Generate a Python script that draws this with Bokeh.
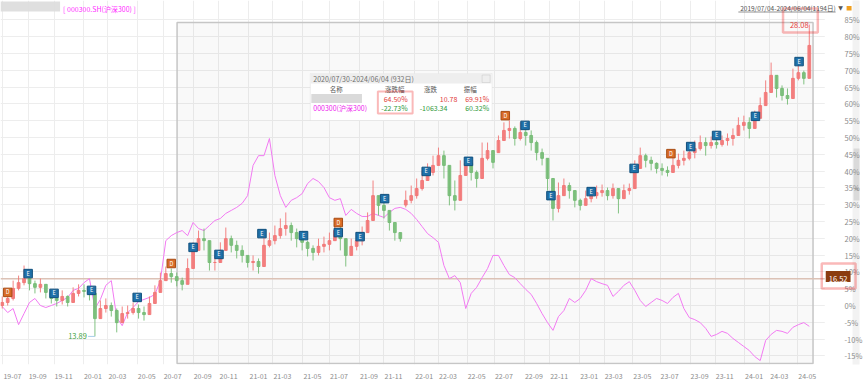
import numpy as np
from bokeh.plotting import figure
from bokeh.models import Range1d, FixedTicker, PrintfTickFormatter, Label, BoxAnnotation
from bokeh.core.properties import value
from bokeh.embed import file_html
from bokeh.resources import INLINE

FONT = "Noto Sans CJK SC"

# ---------------- data ----------------
base_price = 15.30          # close of 2019/07/04 -> 0%
ref_price = 16.52           # horizontal reference line
high_price_label = "28.08"
low_price_label = "13.89"
bucket_days = 8             # one candle per 8 trading days

open_pct = [0.0, 0.9, 2.1, 5.1, 6.8, 8.0, 6.5, 5.4, 6.3, 3.9,
            2.1, 1.5, 2.7, 0.9, 3.6, 4.5, 4.2, 3.6, -3.9, -0.9,
            0.0, -1.5, -5.1, -2.4, -2.1, -0.9, -2.1, -2.7, 0.6, 3.9,
            7.4, 9.5, 8.6, 7.4, 6.3, 11.0, 16.4, 19.9, 19.3, 12.8,
            12.8, 16.4, 19.9, 17.9, 16.4, 14.9, 12.8, 13.1, 11.6, 17.9,
            19.3, 20.8, 22.9, 23.8, 21.7, 19.9, 18.8, 17.0, 15.8, 17.6,
            18.2, 19.3, 22.3, 19.9, 14.9, 17.6, 19.3, 21.7, 25.3, 32.7,
            29.8, 28.3, 24.7, 21.7, 29.9, 31.3, 32.7, 34.8, 37.2, 39.6,
            41.7, 44.6, 41.7, 32.7, 31.3, 38.7, 42.3, 39.6, 37.8, 43.8,
            46.1, 45.5, 49.1, 52.1, 52.7, 49.7, 51.5, 50.6, 48.5, 45.5,
            43.8, 37.8, 28.9, 32.7, 35.7, 34.2, 31.3, 29.8, 31.8, 32.7,
            33.6, 34.2, 32.7, 34.8, 31.8, 34.2, 34.8, 40.8, 44.6, 43.2,
            42.3, 40.8, 40.2, 39.6, 41.7, 43.2, 43.8, 45.5, 46.7, 48.5,
            47.6, 48.5, 47.9, 49.1, 49.7, 50.6, 53.6, 54.5, 52.7, 55.7,
            59.5, 63.4, 68.5, 64.6, 62.5, 61.6, 67.6, 69.3, 67.6]
close_pct = [0.9, 2.1, 5.1, 6.8, 8.0, 6.5, 5.4, 6.3, 3.9, 2.1,
             1.5, 2.7, 0.9, 3.6, 4.5, 4.2, 3.6, -3.9, -0.9, 0.0,
             -1.5, -5.1, -2.4, -2.1, -0.9, -2.1, -2.7, 0.6, 3.9, 7.4,
             9.5, 8.6, 7.4, 6.3, 11.0, 16.4, 19.9, 19.3, 12.8, 12.8,
             16.4, 19.9, 17.9, 16.4, 14.9, 12.8, 13.1, 11.6, 17.9, 19.3,
             20.8, 22.9, 23.8, 21.7, 19.9, 18.8, 17.0, 15.8, 17.6, 18.2,
             19.3, 22.3, 19.9, 14.9, 17.6, 19.3, 21.7, 25.3, 32.7, 29.8,
             28.3, 24.7, 21.7, 19.9, 31.3, 32.7, 34.8, 37.2, 39.6, 41.7,
             44.6, 41.7, 32.7, 31.3, 38.7, 42.3, 39.6, 37.8, 43.8, 46.1,
             42.6, 49.1, 52.1, 52.7, 49.7, 51.5, 50.6, 48.5, 45.5, 43.8,
             37.8, 28.9, 32.7, 35.7, 34.2, 31.3, 29.8, 31.8, 32.7, 33.6,
             34.2, 32.7, 34.8, 31.8, 34.2, 34.8, 40.8, 44.6, 43.2, 42.3,
             40.8, 40.2, 39.6, 41.7, 43.2, 43.8, 45.5, 46.7, 48.5, 47.6,
             48.5, 47.9, 49.1, 49.7, 50.6, 53.6, 54.5, 52.7, 55.7, 59.5,
             63.4, 68.5, 64.6, 62.5, 61.6, 67.6, 69.3, 67.6, 77.4]
high_pct = [2.7, 3.9, 7.4, 8.9, 11.9, 8.9, 7.4, 8.0, 6.0, 4.5,
            3.3, 4.5, 3.0, 5.4, 6.3, 6.3, 5.4, 3.9, 1.5, 2.1,
            0.9, -0.9, -0.3, 0.0, 0.9, 0.3, -0.3, 2.7, 6.0, 9.8,
            11.6, 11.0, 9.8, 8.3, 14.0, 18.8, 22.3, 22.9, 15.8, 14.9,
            18.8, 23.2, 20.8, 19.3, 17.9, 14.9, 14.9, 14.0, 21.4, 21.7,
            23.8, 25.9, 27.7, 24.7, 22.9, 21.4, 19.3, 17.9, 19.9, 20.5,
            21.7, 25.9, 23.8, 18.8, 19.9, 21.7, 23.5, 27.7, 37.2, 32.7,
            31.3, 27.4, 24.7, 20.8, 34.2, 35.7, 37.8, 40.2, 42.3, 44.6,
            47.0, 46.1, 37.8, 37.2, 43.2, 44.0, 42.3, 40.2, 48.5, 48.5,
            44.6, 50.6, 54.5, 55.1, 53.3, 54.5, 53.3, 52.1, 49.1, 46.7,
            42.3, 34.2, 36.6, 37.8, 36.6, 33.3, 31.8, 34.2, 34.8, 35.7,
            36.0, 35.1, 36.3, 34.8, 36.0, 36.3, 43.2, 47.0, 45.2, 44.3,
            42.6, 42.3, 41.4, 44.3, 45.2, 46.1, 47.3, 49.1, 50.6, 50.0,
            50.3, 50.3, 50.6, 51.2, 52.7, 56.0, 56.5, 56.0, 58.0, 61.9,
            67.0, 72.3, 68.5, 65.5, 64.6, 70.5, 71.7, 69.9, 83.6]
low_pct = [-0.9, 0.0, 1.5, 4.5, 6.0, 4.5, 3.6, 3.9, 2.1, 0.6,
           -0.3, 0.3, -0.3, 1.5, 2.7, 2.4, 1.5, -9.2, -3.3, -2.1,
           -3.3, -8.0, -4.5, -3.9, -2.7, -3.9, -4.5, -2.1, 1.5, 4.5,
           7.4, 6.8, 5.7, 4.5, 8.6, 12.8, 17.3, 16.4, 10.4, 10.4,
           12.8, 17.3, 15.8, 14.0, 12.8, 11.3, 10.4, 9.5, 14.0, 17.3,
           18.2, 19.9, 20.8, 19.3, 17.3, 16.4, 14.6, 13.4, 14.9, 15.8,
           16.4, 19.3, 16.4, 11.6, 15.2, 16.4, 17.9, 22.9, 29.2, 26.8,
           25.9, 22.3, 19.3, 19.0, 29.2, 30.4, 31.8, 34.2, 37.2, 38.7,
           41.7, 37.8, 29.8, 28.3, 35.7, 39.6, 37.2, 35.1, 40.2, 43.2,
           40.8, 46.1, 49.1, 49.7, 47.6, 49.1, 47.6, 46.1, 43.2, 41.7,
           34.2, 25.3, 27.7, 32.7, 31.8, 29.2, 28.3, 29.8, 30.7, 31.8,
           32.4, 31.3, 31.8, 27.4, 32.4, 33.0, 35.4, 41.7, 41.1, 40.2,
           39.3, 38.7, 38.4, 40.2, 40.8, 41.7, 43.2, 43.8, 46.1, 44.6,
           46.7, 46.7, 47.3, 47.6, 47.6, 51.2, 52.1, 49.7, 53.6, 56.5,
           61.0, 64.6, 61.9, 61.0, 59.8, 64.6, 67.0, 65.8, 72.3]
csi300_pct = [-0.3, -2.1, -0.9, -5.7, -2.4, 0.9, 2.1, 0.0, -0.6, 0.0,
              0.6, 1.5, 2.4, 4.5, 5.1, 6.8, 8.0, -0.9, 1.8, 6.0,
              7.4, -3.6, -6.0, -2.1, -0.6, 1.2, 1.8, 2.4, 3.3, 7.4,
              19.3, 20.8, 21.7, 22.3, 20.8, 24.7, 22.9, 22.3, 23.8, 25.3,
              25.9, 27.4, 28.3, 29.2, 30.4, 32.7, 41.7, 44.6, 44.6, 49.7,
              38.7, 32.7, 29.2, 31.3, 32.1, 33.3, 36.3, 37.8, 36.9, 35.1,
              32.1, 31.3, 31.8, 26.8, 28.6, 27.4, 26.5, 26.5, 27.4, 26.8,
              26.2, 27.7, 28.9, 29.2, 28.6, 27.4, 25.6, 23.5, 21.4, 20.2,
              18.8, 11.9, 8.0, 8.9, 6.8, -0.9, 3.6, 5.4, 8.3, 11.0,
              14.9, 14.9, 11.9, 9.2, 8.3, 6.5, 4.8, 3.3, 0.6, -2.4,
              -5.1, -7.4, -3.3, -1.5, 2.1, 0.9, 2.1, 4.5, 8.0, 7.1,
              6.5, 6.0, 2.7, 4.2, 6.0, 7.1, 4.5, 1.5, -0.3, 0.9,
              2.1, 1.5, 0.6, 2.4, 3.6, -0.9, -3.6, -4.2, -5.1, -6.8,
              -9.2, -8.6, -7.7, -8.3, -9.8, -11.0, -12.2, -13.4, -15.2, -16.4,
              -10.4, -8.6, -7.4, -7.7, -8.3, -6.5, -5.7, -5.1, -6.2]

# x axis: trading-day index of month starts (every 2 months)
month_tick_idx = [5, 42, 80, 123, 159, 202, 240, 284, 322, 366, 401, 445, 484, 528, 564,
                  609, 644, 686, 726, 770, 807, 851, 887, 929, 969, 1013, 1050, 1093, 1130, 1171]
month_tick_labels = ["19-07", "19-09", "19-11", "20-01", "20-03", "20-05", "20-07", "20-09",
                     "20-11", "21-01", "21-03", "21-05", "21-07", "21-09", "21-11", "22-01",
                     "22-03", "22-05", "22-07", "22-09", "22-11", "23-01", "23-03", "23-05",
                     "23-07", "23-09", "23-11", "24-01", "24-03", "24-05"]
pct_ticks = list(range(-15, 90, 5))

# event markers (trading-day index, % level)
blue_idx = [42, 80, 135, 202, 284, 322, 385, 446, 497, 529, 565, 626, 688, 771, 809, 868, 931,
            1014, 1052, 1109, 1173]
blue_pct = [9.5, 3.6, 4.5, 2.4, 17.3, 15.2, 21.4, 20.8, 21.7, 20.5, 31.8, 39.9, 42.9, 53.6,
            32.7, 33.9, 40.8, 47.3, 50.6, 56.3, 72.6]
orange_idx = [12, 252, 497, 742, 985]
orange_pct = [3.9, 12.5, 24.7, 56.5, 45.2]

sel_start_idx, sel_end_idx = 261, 1193
table_title = "2020/07/30-2024/06/04 (932日)"
table_headers = ["名称", "涨跌幅", "涨跌", "振幅"]
stock_row = ["64.50%", "10.78", "69.91%"]
index_name = "000300(沪深300)"
index_row = ["-22.73%", "-1063.34", "60.32%"]
header_index = "[ 000300.SH(沪深300) ]"
header_range = "2019/07/04-2024/06/04(1194日)"

# ---------------- figure ----------------
W, H = 865, 383
FH = 364                      # frame height (page px), x-axis below
PX_PER_DAY, PX_DAY0 = 0.6864, -1.0
PX_PER_PCT, PY_ZERO = 3.36, 305.0
LABEL_SHIFT = 14              # month labels start just right of their grid line


def gx(px):  # page pixel -> data x
    return (px - PX_DAY0) / PX_PER_DAY


def gy(py):  # page pixel -> data y
    return (PY_ZERO - py) / PX_PER_PCT


p = figure(width=W, height=H, x_range=Range1d(gx(0), gx(W)), y_range=Range1d(gy(FH), gy(0)),
           output_backend="svg", toolbar_location=None, y_axis_location="right",
           min_border_left=0, min_border_top=0, min_border_right=0, min_border_bottom=H - FH)
p.outline_line_color = None
p.background_fill_color = "white"
p.border_fill_color = "white"

label_pos = [m + LABEL_SHIFT for m in month_tick_idx]
xa = p.xaxis[0]
xa.ticker = FixedTicker(ticks=label_pos)
xa.major_label_overrides = {t: l for t, l in zip(label_pos, month_tick_labels)}
xa.axis_line_color = None
xa.major_tick_line_color = None
xa.minor_tick_line_color = None
xa.major_label_text_font_size = "7px"
xa.major_label_text_color = "#8c8c8c"
xa.major_label_text_font = FONT
xa.major_label_standoff = 2

ya = p.yaxis[0]
ya.ticker = FixedTicker(ticks=pct_ticks)
ya.formatter = PrintfTickFormatter(format="%d%%")
ya.axis_line_color = None
ya.major_tick_line_color = None
ya.minor_tick_line_color = None
ya.major_label_text_font_size = "7.5px"
ya.major_label_text_color = "#8c8c8c"
ya.major_label_text_font = FONT
ya.major_label_standoff = -21

p.xgrid.ticker = FixedTicker(ticks=month_tick_idx)
p.xgrid.grid_line_color = "#ededed"
p.ygrid.grid_line_color = "#ededed"

# axis label strip and scrollbar (cover the grid)
p.add_layout(BoxAnnotation(left=gx(830), right=gx(858), top=gy(-2), bottom=gy(FH + 2), fill_color="white",
                           fill_alpha=1, line_color=None, level="underlay"))
p.add_layout(BoxAnnotation(left=gx(858), right=gx(W + 2), top=gy(-2), bottom=gy(FH + 2), fill_color="#f2f2f2",
                           fill_alpha=1, line_color=None, level="underlay"))
p.add_layout(BoxAnnotation(left=gx(859), right=gx(W + 2), top=gy(148), bottom=gy(200), fill_color="#dadada",
                           fill_alpha=1, line_color=None, level="underlay"))
p.add_layout(Label(x=gx(862), y=gy(188), text="«", text_color="#8a8a8a", text_font="DejaVu Sans",
                   text_font_size="7px", text_align="center", text_baseline="middle"))

# selection box
p.quad(left=[sel_start_idx - 0.5], right=[sel_end_idx + 0.5], top=[gy(22)], bottom=[gy(363)],
       fill_color="#000000", fill_alpha=0.025, line_color="#c6c6c6", line_width=1.5)

ref_pct = (ref_price / base_price - 1) * 100
p.segment(x0=[gx(0)], y0=[ref_pct], x1=[gx(830)], y1=[ref_pct], line_color="#dcc2b6", line_width=1.5)

x = 4 + bucket_days * np.arange(len(close_pct))
o = np.array(open_pct)
c = np.array(close_pct)
h = np.maximum(np.array(high_pct), np.maximum(o, c))
lo = np.minimum(np.array(low_pct), np.minimum(o, c))
cols = np.where(c >= o, "#f27676", "#74bb74").tolist()

p.line(x, csi300_pct, line_color="#f27af2", line_width=1)
p.segment(x0=x, y0=h, x1=x, y1=lo, line_color=cols, line_width=1, line_alpha=0.9)
p.vbar(x=x, width=4.0, top=o, bottom=c, fill_color=cols, line_color=cols, fill_alpha=0.85, line_alpha=0.9)

# markers
p.scatter(blue_idx, blue_pct, marker="square", size=8.5, fill_color="#1f70a8", line_color="#11507e")
p.text(blue_idx, blue_pct, text=["E"] * len(blue_idx), text_color="white", text_font=value(FONT),
       text_font_size="5.5px", text_align="center", text_baseline="middle")
p.scatter(orange_idx, orange_pct, marker="square", size=8.5, fill_color="#d86b26", line_color="#a84c14")
p.text(orange_idx, orange_pct, text=["D"] * len(orange_idx), text_color="white", text_font=value(FONT),
       text_font_size="5.5px", text_align="center", text_baseline="middle")

# min / max labels
imax = int(np.argmax(h))
imin = int(np.argmin(lo))
p.add_layout(Label(x=x[imax], y=h[imax], x_offset=-10, text=high_price_label, text_color="#e8403a",
                   text_font=FONT, text_font_size="7.5px", text_align="center", text_baseline="middle"))
p.add_layout(BoxAnnotation(left=gx(788), right=gx(823), top=gy(8), bottom=gy(32), fill_alpha=0,
                           line_color="#f01818", line_width=2.5))
p.segment(x0=[x[imin] - 10], y0=[lo[imin]], x1=[x[imin]], y1=[lo[imin]], line_color="#a8cde8", line_width=1)
p.add_layout(Label(x=x[imin], y=lo[imin], x_offset=-8, text=low_price_label, text_color="#3f9f3f",
                   text_font=FONT, text_font_size="7.5px", text_align="right", text_baseline="middle"))

# reference price tag on the axis
p.add_layout(BoxAnnotation(left=gx(831), right=gx(856), top=gy(270.5), bottom=gy(281.5), fill_color="#8b3c10",
                           fill_alpha=1, line_color=None))
p.add_layout(Label(x=gx(843.5), y=ref_pct, text=f"{ref_price:.2f}", text_color="white",
                   text_font=FONT, text_font_size="7.5px", text_align="center", text_baseline="middle"))
p.add_layout(BoxAnnotation(left=gx(827), right=gx(861), top=gy(263), bottom=gy(288), fill_alpha=0,
                           line_color="#f01818", line_width=2.5))

# header
p.add_layout(BoxAnnotation(left=gx(0), right=gx(60), top=gy(1), bottom=gy(11), fill_color="#dcdcdc",
                           fill_alpha=0.9, line_color=None))
p.add_layout(Label(x=gx(63), y=gy(8), text=header_index, text_color="#ff2cff", text_font=FONT,
                   text_font_size="7px", text_align="left", text_baseline="middle"))
p.add_layout(Label(x=gx(841), y=gy(7), text=header_range, text_color="#555555", text_font=FONT,
                   text_font_size="6.5px", text_align="right", text_baseline="middle"))
p.segment(x0=[gx(743)], y0=[gy(11.5)], x1=[gx(841)], y1=[gy(11.5)], line_color="#777777", line_width=0.8)
p.add_layout(Label(x=gx(846), y=gy(7), text="▼", text_color="#555555", text_font="DejaVu Sans",
                   text_font_size="6px", text_align="center", text_baseline="middle"))
p.add_layout(BoxAnnotation(left=gx(852), right=gx(857), top=gy(5.5), bottom=gy(10), fill_color="#f0a020",
                           fill_alpha=1, line_color=None))

# statistics table
p.add_layout(BoxAnnotation(left=gx(312), right=gx(495), top=gy(73), bottom=gy(120), fill_color="white",
                           fill_alpha=1, line_color="#cfcfcf", line_width=1))
p.add_layout(BoxAnnotation(left=gx(312.5), right=gx(494.5), top=gy(73.5), bottom=gy(83), fill_color="#eeeeee",
                           fill_alpha=1, line_color=None))
p.add_layout(BoxAnnotation(left=gx(485), right=gx(493), top=gy(74.5), bottom=gy(82), fill_alpha=0,
                           line_color="#b0b0b0", line_width=1))


def lab(px, py, text, color, align="left", size="7px"):
    p.add_layout(Label(x=gx(px), y=gy(py), text=text, text_color=color, text_font=FONT,
                       text_font_size=size, text_align=align, text_baseline="middle"))


lab(315, 78.5, table_title, "#6e6e6e")
for cx, t in zip([338, 397, 433, 473], table_headers):
    lab(cx, 88, t, "#555555", "center", "6.5px")
p.add_layout(BoxAnnotation(left=gx(313), right=gx(364), top=gy(93.5), bottom=gy(102.5), fill_color="#d4d4d4",
                           fill_alpha=0.85, line_color=None))
for rx, t in zip([410, 460, 492], stock_row):
    lab(rx, 98, t, "#e2403a", "right")
lab(315, 107.5, index_name, "#ee22ee")
for rx, t in zip([410, 450, 492], index_row):
    lab(rx, 107.5, t, "#2f9a3a", "right")
p.add_layout(BoxAnnotation(left=gx(380), right=gx(415), top=gy(91), bottom=gy(113), fill_alpha=0,
                           line_color="#f01818", line_width=2))

open("out.html", "w").write(file_html(p, INLINE))
